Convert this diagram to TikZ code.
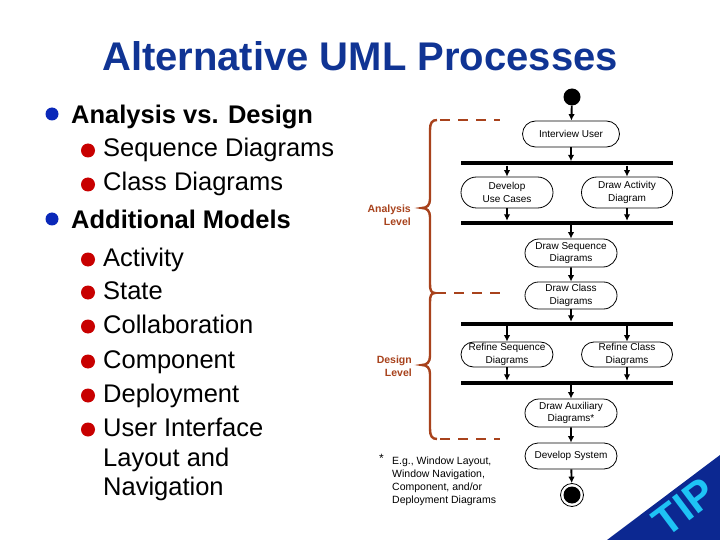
\documentclass[tikz,border=0pt]{standalone}
\usepackage{fontspec}
\setmainfont{Liberation Sans}
\usetikzlibrary{shapes.misc,arrows.meta}
\definecolor{titleblue}{RGB}{16,52,148}
\definecolor{bulletblue}{RGB}{10,40,185}
\definecolor{bulletred}{RGB}{200,0,0}
\definecolor{bracebrown}{RGB}{168,66,28}
\definecolor{tipblue}{RGB}{12,40,145}
\definecolor{tipcyan}{RGB}{30,195,245}
\tikzset{
  activity/.style={draw, line width=0.8pt, rounded rectangle, inner sep=0pt, align=center,
    font=\fontsize{10}{12.5}\selectfont, minimum width=92pt},
  syncbar/.style={fill=black, inner sep=0pt, minimum width=212pt, minimum height=4pt},
  arr/.style={line width=1.9pt, -{Latex[length=6.5pt,width=6.5pt]}},
  lvlone/.style={anchor=base west, inner sep=0pt, font=\fontsize{25.5}{30}\selectfont\bfseries},
  lvltwo/.style={anchor=base west, inner sep=0pt, font=\fontsize{25.5}{30}\selectfont},
  bulone/.style={circle, fill=bulletblue, inner sep=0pt, minimum size=13pt},
  bultwo/.style={circle, fill=bulletred, inner sep=0pt, minimum size=14pt},
  bracepath/.style={draw=bracebrown, line width=2.4pt},
  dashpath/.style={draw=bracebrown, line width=2.4pt, dash pattern=on 10pt off 8pt},
  levellabel/.style={anchor=east, inner sep=0pt, align=right, text=bracebrown,
    font=\fontsize{10.5}{13.5}\selectfont\bfseries},
  footline/.style={anchor=base west, inner sep=0pt, font=\fontsize{10.5}{13}\selectfont},
}
\begin{document}
\begin{tikzpicture}[x=1pt,y=-1pt]
\useasboundingbox[fill=white] (0,0) rectangle (720,540);

% Title
\node[anchor=base, inner sep=0pt, text=titleblue, font=\fontsize{40}{44}\selectfont\bfseries]
  (title) at (360,71) {Alternative UML Processes};

% Left bullet list
\node[bulone] (b1a) at (52,114) {};
\node[lvlone] (t1a) at (71,124) {Analysis vs. Design};
\node[bultwo] (b2a) at (88,150.5) {};
\node[lvltwo] (t2a) at (103,157) {Sequence Diagrams};
\node[bultwo] (b2b) at (88,184.5) {};
\node[lvltwo] (t2b) at (103,191) {Class Diagrams};
\node[bulone] (b1b) at (52,219) {};
\node[lvlone] (t1b) at (71,229) {Additional Models};
\node[bultwo] (b2c) at (88,259.5) {};
\node[lvltwo] (t2c) at (103,266) {Activity};
\node[bultwo] (b2d) at (88,292.5) {};
\node[lvltwo] (t2d) at (103,299) {State};
\node[bultwo] (b2e) at (88,326.5) {};
\node[lvltwo] (t2e) at (103,333) {Collaboration};
\node[bultwo] (b2f) at (88,361.5) {};
\node[lvltwo] (t2f) at (103,368) {Component};
\node[bultwo] (b2g) at (88,395.5) {};
\node[lvltwo] (t2g) at (103,402) {Deployment};
\node[bultwo] (b2h) at (88,429.5) {};
\node[lvltwo] (t2h) at (103,436) {User Interface};
\node[lvltwo] (t2i) at (103,466) {Layout and};
\node[lvltwo] (t2j) at (103,495) {Navigation};

% Braces
\path[bracepath] (437,120) .. controls (432,120) and (430,123) .. (430,130)
  -- (430,199) .. controls (430,205) and (427,208) .. (422,208)
  .. controls (427,208) and (430,211) .. (430,217)
  -- (430,284) .. controls (430,290) and (431,293) .. (435,293)
  .. controls (431,293) and (430,296) .. (430,302)
  -- (430,356) .. controls (430,362) and (427,365) .. (422,365)
  .. controls (427,365) and (430,368) .. (430,374)
  -- (430,429) .. controls (430,436) and (432,439) .. (437,439);
\path[dashpath] (440,120) -- (500,120);
\path[dashpath] (436,293) -- (500,293);
\path[dashpath] (440,439) -- (500,439);
\node[levellabel] (alevel) at (411,215) {Analysis\\Level};
\node[levellabel] (dlevel) at (412,366) {Design\\Level};

% Activity diagram
\node[circle, fill=black, inner sep=0pt, minimum size=17pt] (start) at (572,97) {};
\node[activity, minimum width=97pt, minimum height=26pt] (iu) at (571,134) {Interview User};
\node[syncbar] (bar1) at (567,163.5) {};
\node[activity, minimum height=31pt] (duc) at (507,192.5) {Develop\\Use Cases};
\node[activity, minimum width=91pt, minimum height=31pt] (dad) at (627,192.5) {Draw Activity\\Diagram};
\node[syncbar] (bar2) at (567,223) {};
\node[activity, minimum height=28pt] (dsd) at (571,253) {Draw Sequence\\Diagrams};
\node[activity, minimum height=27pt] (dcd) at (571,295.5) {Draw Class\\Diagrams};
\node[syncbar] (bar3) at (567,324) {};
\node[activity, minimum height=25pt] (rsd) at (507,354.5) {Refine Sequence\\Diagrams};
\node[activity, minimum width=91pt, minimum height=25pt] (rcd) at (627,354.5) {Refine Class\\Diagrams};
\node[syncbar] (bar4) at (567,383) {};
\node[activity, minimum height=28pt] (aux) at (571,413) {Draw Auxiliary\\Diagrams*};
\node[activity, minimum height=26pt] (dsys) at (571,456) {Develop System};
\node[circle, draw=black, line width=0.8pt, fill=white, inner sep=0pt, minimum size=23pt] (stop) at (572,495) {};
\node[circle, fill=black, inner sep=0pt, minimum size=17pt] (stopdot) at (stop.center) {};

\draw[arr] (start) -- (iu);
\draw[arr] (iu.south) -- (iu.south |- bar1.north);
\draw[arr] (bar1.south -| duc.north) -- (duc.north);
\draw[arr] (bar1.south -| dad.north) -- (dad.north);
\draw[arr] (duc.south) -- (duc.south |- bar2.north);
\draw[arr] (dad.south) -- (dad.south |- bar2.north);
\draw[arr] (bar2.south -| dsd.north) -- (dsd.north);
\draw[arr] (dsd) -- (dcd);
\draw[arr] (dcd.south) -- (dcd.south |- bar3.north);
\draw[arr] (bar3.south -| rsd.north) -- (rsd.north);
\draw[arr] (bar3.south -| rcd.north) -- (rcd.north);
\draw[arr] (rsd.south) -- (rsd.south |- bar4.north);
\draw[arr] (rcd.south) -- (rcd.south |- bar4.north);
\draw[arr] (bar4.south -| aux.north) -- (aux.north);
\draw[arr] (aux) -- (dsys);
\draw[arr] (dsys) -- (stop);

% Footnote
\node[footline, font=\fontsize{12}{13}\selectfont] (fstar) at (379,462) {*};
\node[footline] (f1) at (392,464) {E.g., Window Layout,};
\node[footline] (f2) at (392,477) {Window Navigation,};
\node[footline] (f3) at (392,490) {Component, and/or};
\node[footline] (f4) at (392,503) {Deployment Diagrams};

% TIP corner
\fill[tipblue] (607,540) -- (720,455) -- (720,540) -- cycle;
\node[rotate=36.9, text=tipcyan, inner sep=0pt, font=\fontsize{42}{42}\selectfont\bfseries]
  (tip) at (684,507) {TIP};
\end{tikzpicture}
\end{document}
